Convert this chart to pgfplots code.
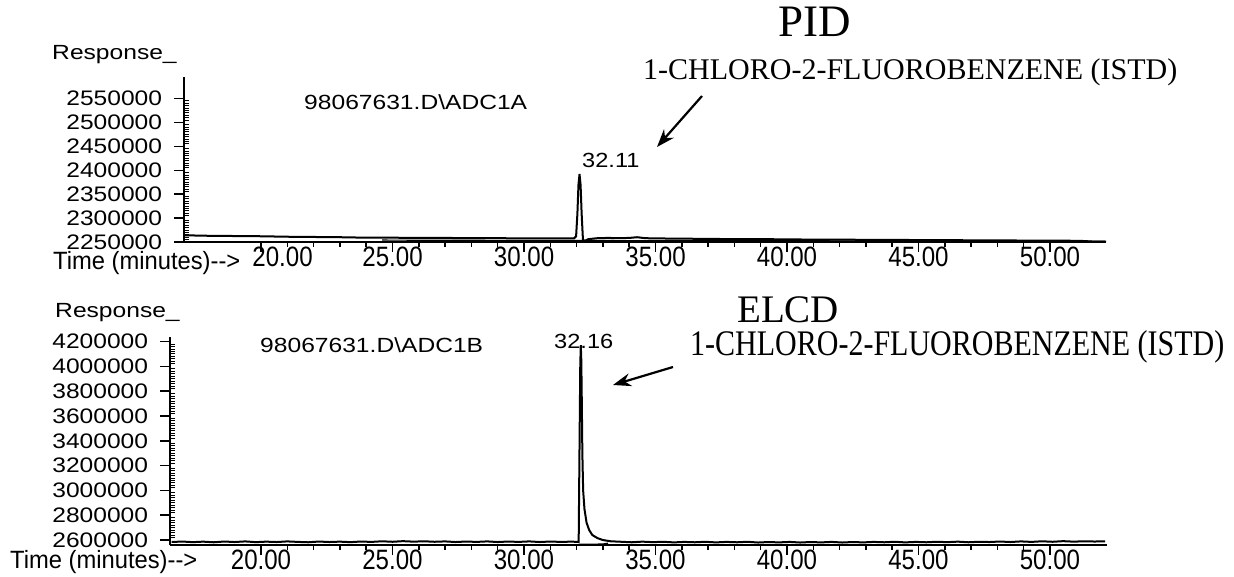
\documentclass[border=0pt]{standalone}
\usepackage{fontspec}
\setmainfont{Liberation Sans}
\newfontfamily\serif{Liberation Serif}
\usepackage{pgfplots}
\pgfplotsset{compat=1.18}
\usetikzlibrary{arrows.meta}

\pgfplotsset{
  chrom/.style={
    scale only axis,
    axis lines*=left,
    axis line style={line width=2pt, black},
    tick align=outside,
    major tick length=10pt,
    minor tick length=5pt,
    tick style={line width=1.5pt, black},
    every minor y tick/.append style={xshift=5pt, line width=1pt},
    xtick={20,25,30,35,40,45,50},
    minor x tick num=4,
    minor y tick num=9,
    scaled y ticks=false,
    scaled x ticks=false,
    yticklabel style={font=\fontsize{21}{22}\selectfont, xscale=1.17, anchor=east, inner sep=0pt, xshift=-10pt},
    xticklabel style={font=\fontsize{28}{30}\selectfont, xscale=0.86, anchor=north, inner sep=0pt, yshift=5pt},
    clip=true,
  },
}

\begin{document}
\begin{tikzpicture}
\path[use as bounding box] (0pt,0pt) rectangle (1234pt,-577pt);

% ---------- top (PID) ----------
\begin{axis}[chrom,
  at={(184pt,-242pt)}, anchor=south west,
  width=922pt, height=165pt,
  xmin=17.07, xmax=52.13, ymin=2250000, ymax=2595000,
  xticklabels={\hspace*{50pt}20.00,25.00,30.00,35.00,40.00,45.00,50.00},
  ytick={2250000,2300000,2350000,2400000,2450000,2500000,2550000},
  yticklabels={2250000,2300000,2350000,2400000,2450000,2500000,2550000},
]
\addplot[black, line width=2pt] coordinates {
(17.10,2264000) (18.0,2263000) (19.0,2262500) (20.0,2262000) (21.0,2261000)
(22.0,2260500) (23.0,2260000) (24.0,2259000) (25.0,2259000) (26.0,2258500)
(27.0,2258500) (28.0,2258000) (29.0,2258000) (30.0,2257500) (31.0,2257500)
(31.90,2257500) (31.98,2262000) (32.03,2310000) (32.07,2370000) (32.11,2392000)
(32.15,2370000) (32.19,2310000) (32.24,2255000) (32.30,2252000) (32.45,2256000)
(32.8,2258000) (33.2,2258500) (33.6,2258000) (34.0,2258500) (34.3,2260000)
(34.6,2258000) (35.0,2257500) (36,2257000) (37,2256500) (38,2256000)
(39,2256000) (40,2255500) (41,2255000) (42,2255000) (43,2254500)
(44,2254500) (45,2254000) (46,2254000) (47,2253500) (48,2253500)
(49,2253000) (50,2253000) (51,2252500) (51.3,2252000) (51.6,2251000) (52.13,2251000)
};
\addplot[black, line width=1.2pt] coordinates {
(24.6,2254000) (26,2253800) (28,2253500) (30,2253300) (31.9,2253000)
(32.5,2253000) (35,2252800) (40,2252500) (45,2252200) (50,2251800) (52.1,2251500)
};
\end{axis}

% ---------- bottom (ELCD) ----------
\begin{axis}[chrom,
  at={(170pt,-545pt)}, anchor=south west,
  width=937pt, height=208pt,
  xmin=16.54, xmax=52.17, ymin=2560000, ymax=4237000,
  xticklabels={20.00,25.00,30.00,35.00,40.00,45.00,50.00},
  ytick={2600000,2800000,3000000,3200000,3400000,3600000,3800000,4000000,4200000},
  yticklabels={2600000,2800000,3000000,3200000,3400000,3600000,3800000,4000000,4200000},
]
\addplot[black, line width=2pt] coordinates {
(16.6,2584000) (17.0,2588000) (17.4,2583000) (17.8,2587000) (18.2,2582000)
(18.6,2588000) (19.0,2584000) (19.4,2589000) (19.8,2583000) (20.2,2587000)
(20.6,2584000) (21.0,2589000) (21.4,2585000) (21.8,2582000) (22.2,2588000)
(22.6,2584000) (23.0,2587000) (23.4,2583000) (23.8,2588000) (24.2,2585000)
(24.6,2590000) (25.0,2586000) (25.4,2591000) (25.8,2587000) (26.2,2590000)
(26.6,2586000) (27.0,2589000) (27.4,2584000) (27.8,2588000) (28.2,2585000)
(28.6,2589000) (29.0,2584000) (29.4,2588000) (29.8,2585000) (30.2,2589000)
(30.6,2584000) (31.0,2588000) (31.4,2585000) (31.8,2587000) (32.08,2585000)
(32.11,3300000) (32.14,4000000) (32.16,4172000) (32.18,4050000) (32.20,3700000)
(32.22,3300000) (32.25,3000000) (32.30,2850000) (32.38,2740000) (32.48,2680000)
(32.60,2640000) (32.80,2615000) (33.00,2600000) (33.3,2590000) (33.7,2586000)
(34.1,2582000) (34.5,2587000) (34.9,2583000) (35.3,2586000) (35.7,2581000)
(36.1,2585000) (36.5,2582000) (36.9,2586000) (37.3,2581000) (37.7,2585000)
(38.1,2582000) (38.5,2586000) (38.9,2580000) (39.3,2584000) (39.7,2581000)
(40.1,2585000) (40.5,2580000) (40.9,2584000) (41.3,2581000) (41.7,2585000)
(42.1,2580000) (42.5,2584000) (42.9,2581000) (43.3,2585000) (43.7,2582000)
(44.1,2586000) (44.5,2581000) (44.9,2585000) (45.3,2582000) (45.7,2586000)
(46.1,2583000) (46.5,2587000) (46.9,2582000) (47.3,2586000) (47.7,2584000)
(48.1,2588000) (48.5,2584000) (48.9,2589000) (49.3,2585000) (49.7,2590000)
(50.1,2586000) (50.5,2591000) (50.9,2587000) (51.3,2590000) (51.7,2588000) (52.1,2590000)
};
\addplot[black, line width=1.2pt] coordinates {
(32.08,2566000) (32.5,2566000) (33.0,2568000) (33.2,2575000)
};
\end{axis}

% ---------- texts ----------
\begin{scope}[every node/.style={inner sep=0pt}]
\node[anchor=base west, font=\fontsize{20.5}{22}\selectfont, xscale=1.2] at (52pt,-60pt) {Response\_};
\node[anchor=base west, font=\fontsize{20.5}{22}\selectfont, xscale=1.2] at (55pt,-317pt) {Response\_};
\node[anchor=base west, font=\fontsize{25}{27}\selectfont, xscale=0.95] at (53pt,-270pt) {Time (minutes)-{}-{}>};
\node[anchor=base west, font=\fontsize{25}{27}\selectfont, xscale=0.95] at (10pt,-568pt) {Time (minutes)-{}-{}>};
\node[anchor=base west, font=\fontsize{20.5}{22}\selectfont, xscale=1.2] at (304pt,-110pt) {98067631.D\textbackslash ADC1A};
\node[anchor=base west, font=\fontsize{20.5}{22}\selectfont, xscale=1.2] at (260pt,-352pt) {98067631.D\textbackslash ADC1B};
\node[anchor=base west, font=\fontsize{20.5}{22}\selectfont, xscale=1.15] at (582pt,-168pt) {32.11};
\node[anchor=base west, font=\fontsize{20.5}{22}\selectfont, xscale=1.15] at (554pt,-348pt) {32.16};
\node[anchor=base, font=\serif\fontsize{45}{48}\selectfont] at (815pt,-37pt) {PID};
\node[anchor=base west, font=\serif\fontsize{30}{32}\selectfont] at (643pt,-80pt) {1-CHLORO-2-FLUOROBENZENE (ISTD)};
\node[anchor=base west, font=\serif\fontsize{39}{42}\selectfont] at (737pt,-323pt) {ELCD};
\node[anchor=base west, font=\serif\fontsize{30}{32}\selectfont, yscale=1.2] at (690pt,-355pt) {1-CHLORO-2-FLUOROBENZENE (ISTD)};
\end{scope}
\draw[line width=2.2pt, -{Stealth[length=18pt, width=13pt]}] (702pt,-96pt) -- (657pt,-147pt);
\draw[line width=2.2pt, -{Stealth[length=18pt, width=13pt]}] (673pt,-367pt) -- (613pt,-385pt);
\end{tikzpicture}
\end{document}
